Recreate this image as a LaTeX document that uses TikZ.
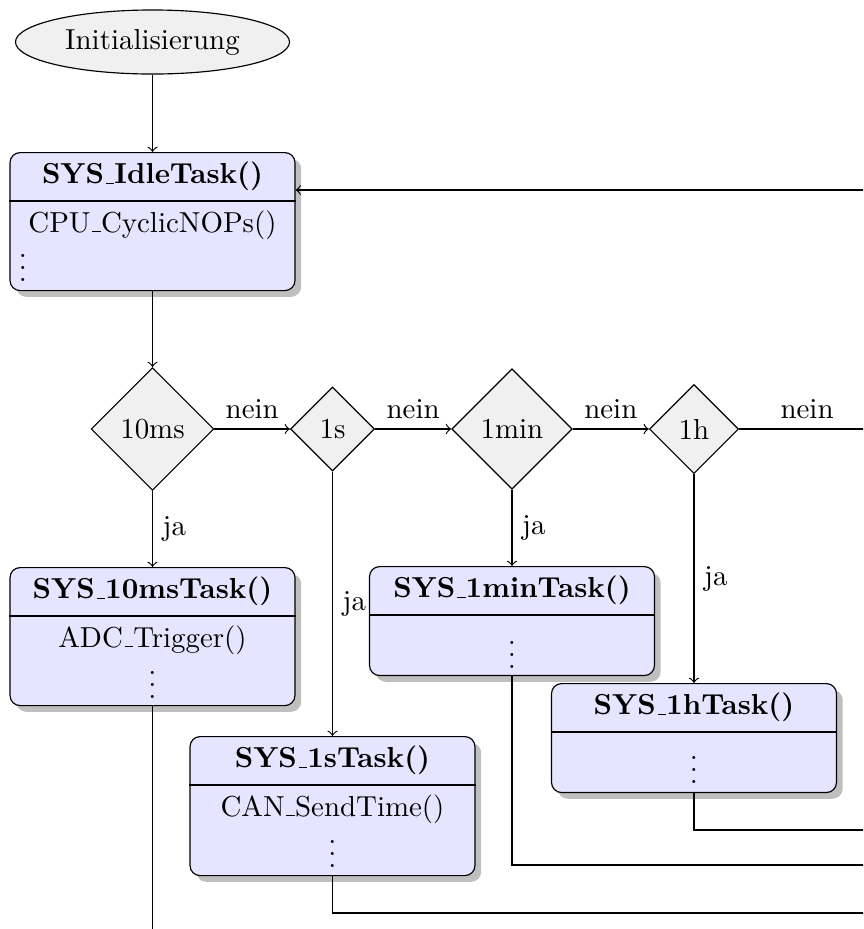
\documentclass[tikz,border=0pt]{standalone}
\usetikzlibrary{shapes.geometric,shadows}
\newcommand\myus{\leavevmode\kern.06em\vbox{\hrule width.3em}}
\begin{document}
\begin{tikzpicture}[x=0.346pt,y=-0.346pt,
  decision/.style={diamond,draw,fill=black!6},
  startnode/.style={ellipse,draw,fill=black!6},
  taskbox/.style={rectangle,draw,rounded corners=3.5pt,fill=blue!10,drop shadow,minimum width=98.6pt,inner sep=0pt,anchor=north},
  tasktitle/.style={font=\bfseries},
  dotsnode/.style={anchor=base,inner sep=0pt}
]
\useasboundingbox (0,0) rectangle (863,929);
\clip (0,0) rectangle (863,929);

% start
\node[startnode] (init) at (152.5,42) {Initialisierung};

% task boxes
\node[taskbox,minimum height=47.75pt] (idle) at (152.5,152) {};
\node[taskbox,minimum height=47.75pt] (t10) at (152.5,567) {};
\node[taskbox,minimum height=48.1pt] (t1s) at (332.5,736) {};
\node[taskbox,minimum height=37.7pt] (t1min) at (512,566) {};
\node[taskbox,minimum height=37.7pt] (t1h) at (694,683) {};

% separators
\draw (idle.west |- 0,201) -- (idle.east |- 0,201);
\draw (t10.west |- 0,616) -- (t10.east |- 0,616);
\draw (t1s.west |- 0,785) -- (t1s.east |- 0,785);
\draw (t1min.west |- 0,615) -- (t1min.east |- 0,615);
\draw (t1h.west |- 0,732) -- (t1h.east |- 0,732);

% titles
\node[tasktitle] (idleT) at (152.5,176.5) {SYS\myus IdleTask()};
\node[tasktitle] (t10T) at (152.5,591.5) {SYS\myus 10msTask()};
\node[tasktitle] (t1sT) at (332.5,760.5) {SYS\myus 1sTask()};
\node[tasktitle] (t1minT) at (512,590.5) {SYS\myus 1minTask()};
\node[tasktitle] (t1hT) at (694,707.5) {SYS\myus 1hTask()};

% bodies
\node (idleB) at (152.5,225) {CPU\myus CyclicNOPs()};
\node[dotsnode] (idleD) at (23,281) {\smash{$\vdots$}};
\node (t10B) at (152.5,640) {ADC\myus Trigger()};
\node[dotsnode] (t10D) at (152.5,698) {\smash{$\vdots$}};
\node (t1sB) at (332.5,809) {CAN\myus SendTime()};
\node[dotsnode] (t1sD) at (332.5,867) {\smash{$\vdots$}};
\node[dotsnode] (t1minD) at (512,668) {\smash{$\vdots$}};
\node[dotsnode] (t1hD) at (694,783) {\smash{$\vdots$}};

% decisions
\node[decision] (d10) at (152.5,429) {10ms};
\node[decision] (d1s) at (332.5,429) {1s};
\node[decision] (d1min) at (512,429) {1min};
\node[decision] (d1h) at (694,429) {1h};

% coordinates
\coordinate (r1) at (875,429);
\coordinate (r2) at (875,190);
\coordinate (b10) at (152.5,945);
\coordinate (b1s) at (332.5,913);
\coordinate (e1s) at (880,913);
\coordinate (b1min) at (512,865);
\coordinate (e1min) at (880,865);
\coordinate (b1h) at (694,830);
\coordinate (e1h) at (880,830);

% connectors
\draw[->] (init) -- (idle);
\draw[->] (idle) -- (d10);
\draw[->] (d10) -- node[above] {nein} (d1s);
\draw[->] (d1s) -- node[above] {nein} (d1min);
\draw[->] (d1min) -- node[above] {nein} (d1h);
\draw (d1h) -- node[above] {nein} (r1) -- (r2);
\draw[->] (r2) -- (r2 -| idle.east);

\draw[->] (d10) -- node[right] {ja} (t10);
\draw[->] (d1s) -- node[right] {ja} (t1s);
\draw[->] (d1min) -- node[right] {ja} (t1min);
\draw[->] (d1h) -- node[right] {ja} (t1h);

\draw (t10) -- (b10);
\draw (t1s) -- (b1s) -- (e1s);
\draw (t1min) -- (b1min) -- (e1min);
\draw (t1h) -- (b1h) -- (e1h);
\end{tikzpicture}
\end{document}
